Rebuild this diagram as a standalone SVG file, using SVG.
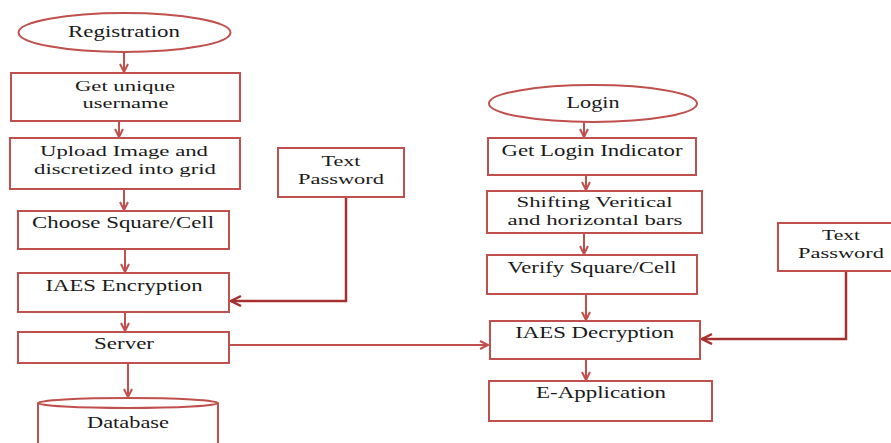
<svg xmlns="http://www.w3.org/2000/svg" width="891" height="443" viewBox="0 0 891 443">
<style>
.n{fill:#fff;stroke:#c0504d;stroke-width:2}
.t{font-family:"Liberation Serif","Times New Roman",serif;font-size:16.5px;fill:#1a1a1a;text-anchor:middle}
.t2{font-size:15px}
.c{fill:none;stroke:#c0504d;stroke-width:2}
.d{fill:none;stroke:#a5302e;stroke-width:2.5}
</style>
<defs>
<marker id="a" markerUnits="userSpaceOnUse" markerWidth="12" markerHeight="12" refX="9" refY="5" orient="auto">
<path d="M1,1 L9,5 L1,9" fill="none" stroke="#c0504d" stroke-width="2"/>
</marker>
<marker id="b" markerUnits="userSpaceOnUse" markerWidth="14" markerHeight="14" refX="11" refY="6" orient="auto">
<path d="M1,1 L11,6 L1,11" fill="none" stroke="#a5302e" stroke-width="2.5"/>
</marker>
</defs>
<rect width="891" height="443" fill="#fff"/>
<g id="connectors">
<path class="c" d="M124,52 V72" marker-end="url(#a)"/>
<path class="c" d="M119,121 V137" marker-end="url(#a)"/>
<path class="c" d="M124,189 V210" marker-end="url(#a)"/>
<path class="c" d="M125,249 V272" marker-end="url(#a)"/>
<path class="c" d="M125,312 V331" marker-end="url(#a)"/>
<path class="c" d="M128,363 V397" marker-end="url(#a)"/>
<path class="d" d="M346,197 V301 H231" marker-end="url(#b)"/>
<path class="c" d="M229,345 H488" marker-end="url(#a)"/>
<path class="c" d="M584,122 V137" marker-end="url(#a)"/>
<path class="c" d="M586,175 V190" marker-end="url(#a)"/>
<path class="c" d="M584,233 V254" marker-end="url(#a)"/>
<path class="c" d="M586,294 V320" marker-end="url(#a)"/>
<path class="c" d="M586,359 V380" marker-end="url(#a)"/>
<path class="d" d="M846,271 V339 H702" marker-end="url(#b)"/>
</g>
<g id="registration">
<ellipse class="n" cx="124.5" cy="32.5" rx="106" ry="19.5"/>
<text class="t" x="124" y="37" textLength="112" lengthAdjust="spacingAndGlyphs">Registration</text>
</g>
<g id="get-username">
<rect class="n" x="11" y="73" width="229" height="48"/>
<text class="t t2" x="125" y="91" textLength="100" lengthAdjust="spacingAndGlyphs">Get unique</text>
<text class="t t2" x="125.5" y="108" textLength="86" lengthAdjust="spacingAndGlyphs">username</text>
</g>
<g id="upload-image">
<rect class="n" x="10" y="138" width="230" height="51"/>
<text class="t t2" x="124" y="156" textLength="168" lengthAdjust="spacingAndGlyphs">Upload Image and</text>
<text class="t t2" x="125" y="174" textLength="182" lengthAdjust="spacingAndGlyphs">discretized into grid</text>
</g>
<g id="choose-square">
<rect class="n" x="18" y="211" width="211" height="38"/>
<text class="t" x="123" y="228" textLength="182" lengthAdjust="spacingAndGlyphs">Choose Square/Cell</text>
</g>
<g id="iaes-encryption">
<rect class="n" x="18" y="273" width="211" height="39"/>
<text class="t" x="124" y="291" textLength="157" lengthAdjust="spacingAndGlyphs">IAES Encryption</text>
</g>
<g id="server">
<rect class="n" x="18" y="332" width="211" height="31"/>
<text class="t" x="124" y="349" textLength="60" lengthAdjust="spacingAndGlyphs">Server</text>
</g>
<g id="database">
<path class="n" d="M38,403 V450 H218 V403"/>
<ellipse class="n" cx="128" cy="403" rx="90" ry="5"/>
<text class="t" x="128" y="428" textLength="82" lengthAdjust="spacingAndGlyphs">Database</text>
</g>
<g id="text-password-1">
<rect class="n" x="278" y="148" width="126" height="49"/>
<text class="t t2" x="341" y="166" textLength="39" lengthAdjust="spacingAndGlyphs">Text</text>
<text class="t t2" x="341" y="184" textLength="86" lengthAdjust="spacingAndGlyphs">Password</text>
</g>
<g id="login">
<ellipse class="n" cx="593" cy="103.5" rx="104" ry="18.5"/>
<text class="t" x="593" y="108" textLength="53" lengthAdjust="spacingAndGlyphs">Login</text>
</g>
<g id="get-login-indicator">
<rect class="n" x="488" y="138" width="208" height="37"/>
<text class="t" x="592" y="156" textLength="181" lengthAdjust="spacingAndGlyphs">Get Login Indicator</text>
</g>
<g id="shifting-bars">
<rect class="n" x="487" y="191" width="215" height="42"/>
<text class="t t2" x="594.5" y="207" textLength="156" lengthAdjust="spacingAndGlyphs">Shifting Veritical</text>
<text class="t t2" x="595" y="225" textLength="175" lengthAdjust="spacingAndGlyphs">and horizontal bars</text>
</g>
<g id="verify-square">
<rect class="n" x="487" y="255" width="210" height="39"/>
<text class="t" x="592" y="273" textLength="169" lengthAdjust="spacingAndGlyphs">Verify Square/Cell</text>
</g>
<g id="iaes-decryption">
<rect class="n" x="490" y="321" width="210" height="38"/>
<text class="t" x="594.7" y="338" textLength="159" lengthAdjust="spacingAndGlyphs">IAES Decryption</text>
</g>
<g id="e-application">
<rect class="n" x="489" y="381" width="223" height="40"/>
<text class="t" x="601" y="398" textLength="130" lengthAdjust="spacingAndGlyphs">E-Application</text>
</g>
<g id="text-password-2">
<rect class="n" x="778" y="223" width="127" height="48"/>
<text class="t t2" x="841" y="240" textLength="38" lengthAdjust="spacingAndGlyphs">Text</text>
<text class="t t2" x="841" y="258" textLength="86" lengthAdjust="spacingAndGlyphs">Password</text>
</g>
</svg>
